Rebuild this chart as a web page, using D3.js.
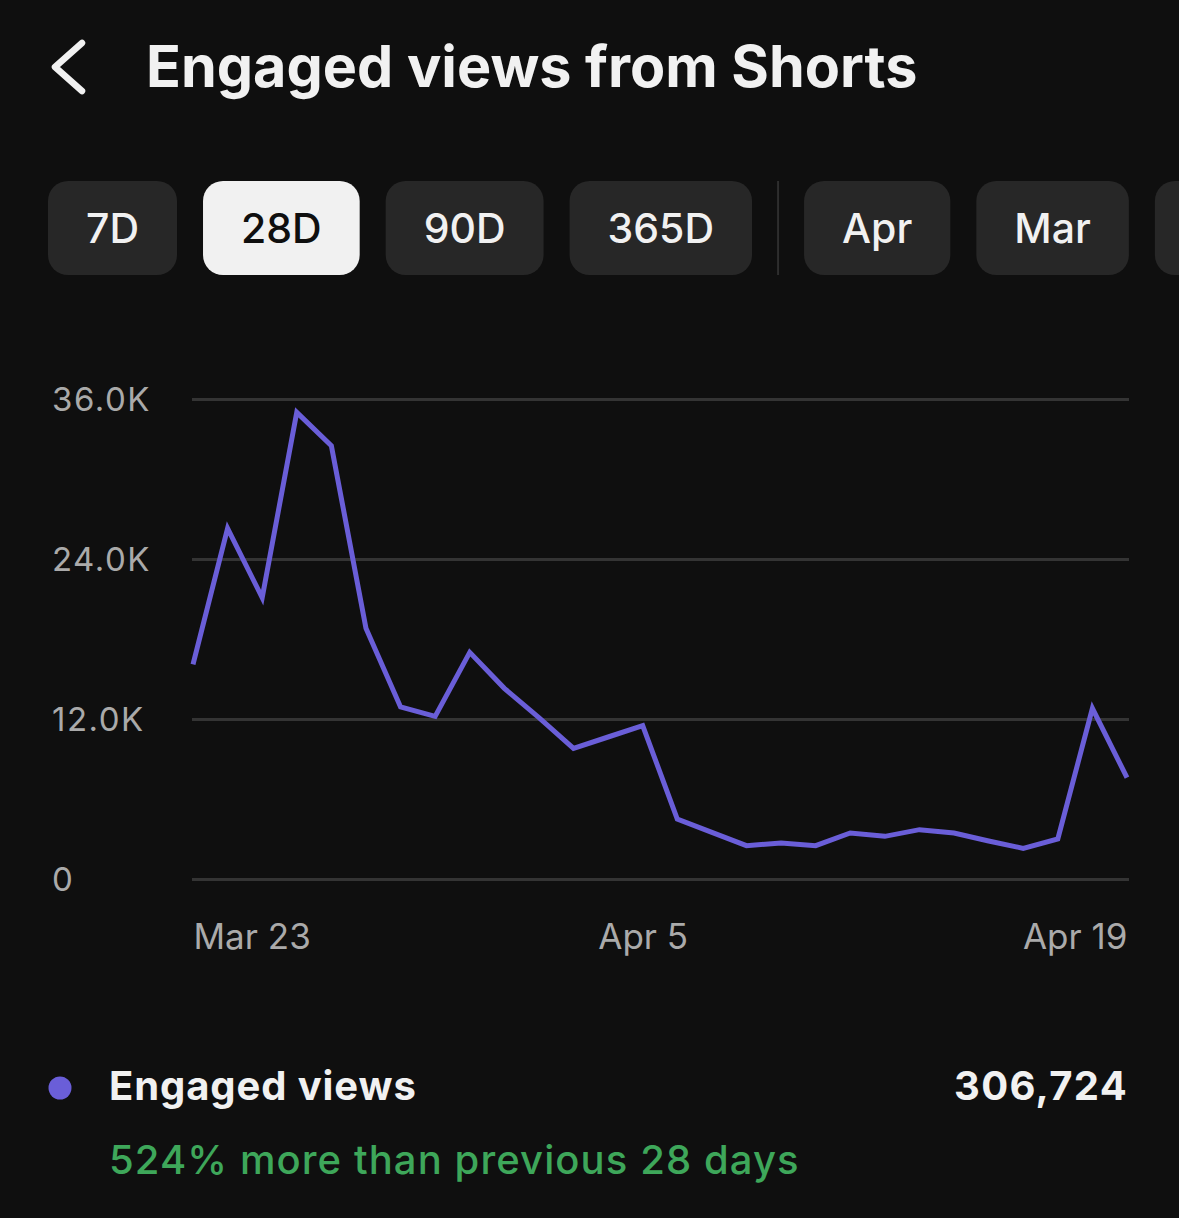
<!DOCTYPE html>
<html>
<head>
<meta charset="utf-8">
<script src="https://cdn.jsdelivr.net/npm/d3@7"></script>
<style>
  html, body { margin: 0; padding: 0; background: #0f0f0f; overflow: hidden; }
  svg { display: block; }
</style>
</head>
<body>
<div id="chart"></div>
<script>
// Engaged views from Shorts, last 28 days
const DAYS = [
  '2024-03-23', '2024-03-24', '2024-03-25', '2024-03-26', '2024-03-27', '2024-03-28', '2024-03-29',
  '2024-03-30', '2024-03-31', '2024-04-01', '2024-04-02', '2024-04-03', '2024-04-04', '2024-04-05',
  '2024-04-06', '2024-04-07', '2024-04-08', '2024-04-09', '2024-04-10', '2024-04-11', '2024-04-12',
  '2024-04-13', '2024-04-14', '2024-04-15', '2024-04-16', '2024-04-17', '2024-04-18', '2024-04-19'
]
const VIEWS = [
  16100, 26300, 21100, 35000, 32500, 18800, 12900,
  12200, 17000, 14300, 12100, 9800, 10650, 11500,
  4500, 3500, 2500, 2700, 2500, 3450, 3200,
  3700, 3450, 2850, 2300, 3000, 12800, 7600
]
const Y_TICKS = [0, 12000, 24000, 36000]
const X_TICKS = ['2024-03-23', '2024-04-05', '2024-04-19']
const X_TICK_LABELS = ['Mar 23', 'Apr 5', 'Apr 19']
const RANGES = ['7D', '28D', '90D', '365D', 'Apr', 'Mar', 'Feb']
const ACTIVE_RANGE = '28D'
const DIVIDER_AFTER = '365D'
const TITLE = 'Engaged views from Shorts'
const SERIES_NAME = 'Engaged views'
const TOTAL = 306724
const CHANGE_TEXT = '524% more than previous 28 days'

const WIDTH = 1179
const HEIGHT = 1218
const FONT = 'Inter, "Noto Sans", sans-serif'
const LINE_COLOR = '#6a5ed8'

const parse = d3.timeParse('%Y-%m-%d')
const data = DAYS.map((d, i) => ({ date: parse(d), value: VIEWS[i] }))

const svg = d3.select('#chart')
  .append('svg')
  .attr('width', WIDTH)
  .attr('height', HEIGHT)
  .style('background', '#0f0f0f')

// Header — back chevron + title
svg.append('path')
  .attr('d', 'M82,43 L55,67 L82,91')
  .attr('fill', 'none')
  .attr('stroke', '#f1f1f1')
  .attr('stroke-width', 6.5)
  .attr('stroke-linecap', 'round')
  .attr('stroke-linejoin', 'round')

svg.append('text')
  .attr('x', 146).attr('y', 87)
  .attr('fill', '#f1f1f1')
  .attr('font-family', FONT)
  .attr('font-weight', 700)
  .attr('font-size', 57.5)
  .text(TITLE)

// Range chips
const chips = svg.append('g').attr('transform', 'translate(48,181)')
const chipH = 94
const chipPad = 38
const chipGap = 26
let cx = 48
RANGES.forEach(label => {
  const active = label === ACTIVE_RANGE
  const g = chips.append('g').attr('transform', `translate(${cx - 48},0)`)
  const rect = g.append('rect')
    .attr('height', chipH)
    .attr('rx', 20)
    .attr('fill', active ? '#f1f1f1' : '#272727')
  const t = g.append('text')
    .attr('y', chipH / 2)
    .attr('dy', '0.36em')
    .attr('text-anchor', 'middle')
    .attr('fill', active ? '#0f0f0f' : '#f1f1f1')
    .attr('font-family', FONT)
    .attr('font-weight', 500)
    .attr('font-size', 41)
    .text(label)
  const w = t.node().getComputedTextLength() + chipPad * 2
  rect.attr('width', w)
  t.attr('x', w / 2)
  // chip scrolled past the right edge: its label is not visible
  if (cx + chipPad >= WIDTH) t.remove()
  cx += w + chipGap
  if (label === DIVIDER_AFTER) {
    chips.append('line')
      .attr('x1', cx - 48).attr('x2', cx - 48)
      .attr('y1', 0).attr('y2', chipH)
      .attr('stroke', '#2e2e2e').attr('stroke-width', 2)
    cx += chipGap
  }
})

// Chart
const margin = { left: 193, right: 52, top: 399, bottom: 339 }
const W = WIDTH - margin.left - margin.right
const H = HEIGHT - margin.top - margin.bottom
const g = svg.append('g').attr('transform', `translate(${margin.left},${margin.top})`)

const x = d3.scaleTime()
  .domain(d3.extent(data, d => d.date))
  .range([0, W])

const y = d3.scaleLinear()
  .domain([0, d3.max(Y_TICKS)])
  .range([H, 0])

// Grid + y labels
g.append('g')
  .call(d3.axisLeft(y).tickValues(Y_TICKS).tickSize(-W - 2).tickPadding(0)
    .tickFormat(d => d === 0 ? '0' : `${(d / 1000).toFixed(1)}K`))
  .call(ax => ax.select('.domain').remove())
  .call(ax => ax.selectAll('line').attr('stroke', '#343434').attr('stroke-width', 3).attr('x1', -1))
  .call(ax => ax.selectAll('text')
    .attr('x', 52 - margin.left)
    .attr('dy', '0.36em')
    .attr('text-anchor', 'start')
    .attr('fill', '#aaaaaa')
    .attr('font-family', FONT)
    .attr('font-size', 33)
    .attr('letter-spacing', 1.5))

// X labels
const xTickDates = X_TICKS.map(parse)
g.append('g')
  .attr('transform', `translate(0,${H})`)
  .call(d3.axisBottom(x).tickValues(xTickDates).tickSize(0).tickPadding(0)
    .tickFormat((d, i) => X_TICK_LABELS[i]))
  .call(ax => ax.select('.domain').remove())
  .call(ax => ax.selectAll('text')
    .attr('y', 57)
    .attr('dy', '0.36em')
    .attr('text-anchor', (d, i) => i === 0 ? 'start' : i === X_TICKS.length - 1 ? 'end' : 'middle')
    .attr('fill', '#aaaaaa')
    .attr('font-family', FONT)
    .attr('font-size', 35))

// Line
const line = d3.line()
  .x(d => x(d.date))
  .y(d => y(d.value))

g.append('path')
  .datum(data)
  .attr('fill', 'none')
  .attr('stroke', LINE_COLOR)
  .attr('stroke-width', 5)
  .attr('stroke-linejoin', 'miter')
  .attr('d', line)

// Legend / summary
svg.append('circle')
  .attr('cx', 60).attr('cy', 1088).attr('r', 11.5)
  .attr('fill', LINE_COLOR)

svg.append('text')
  .attr('x', 109).attr('y', 1100)
  .attr('fill', '#f1f1f1')
  .attr('font-family', FONT)
  .attr('font-weight', 700)
  .attr('font-size', 40)
  .attr('letter-spacing', 0.9)
  .text(SERIES_NAME)

svg.append('text')
  .attr('x', 1128).attr('y', 1100)
  .attr('text-anchor', 'end')
  .attr('fill', '#f1f1f1')
  .attr('font-family', FONT)
  .attr('font-weight', 700)
  .attr('font-size', 40)
  .attr('letter-spacing', 1.3)
  .text(d3.format(',')(TOTAL))

svg.append('text')
  .attr('x', 109).attr('y', 1174)
  .attr('fill', '#3ea75a')
  .attr('font-family', FONT)
  .attr('font-weight', 500)
  .attr('font-size', 40)
  .attr('letter-spacing', 1.1)
  .text(CHANGE_TEXT)
</script>
</body>
</html>
